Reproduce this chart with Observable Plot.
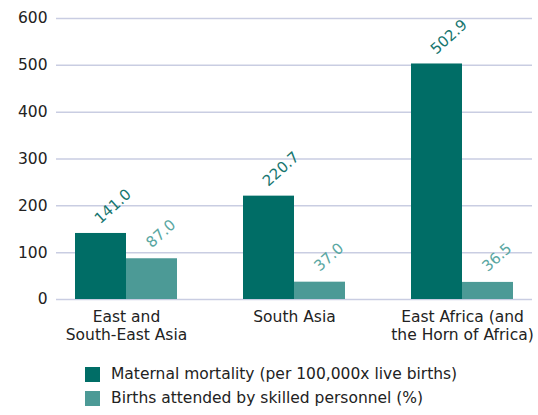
<!DOCTYPE html>
<html>
<head>
<meta charset="utf-8">
<script src="https://cdn.jsdelivr.net/npm/d3@7"></script>
<script src="https://cdn.jsdelivr.net/npm/@observablehq/plot@0.6"></script>
<style>
  html, body { margin: 0; padding: 0; background: #fff; }
  body { width: 538px; height: 415px; overflow: hidden; font-family: "DejaVu Sans", sans-serif; }
  .legend { margin-left: 85px; margin-top: 17px; font-size: 15.5px; color: #222; }
  .legend div { display: flex; align-items: center; height: 24px; }
  .legend span.sw { display: inline-block; width: 15px; height: 15px; margin-right: 11px; }
</style>
</head>
<body>
<div id="chart"></div>
<script>
const regions = ["East and\nSouth-East Asia", "South Asia", "East Africa (and\nthe Horn of Africa)"];
const maternalMortality = [141.0, 220.7, 502.9];
const skilledBirths = [87.0, 37.0, 36.5];
const seriesNames = ["Maternal mortality (per 100,000x live births)", "Births attended by skilled personnel (%)"];
const yTicks = [0, 100, 200, 300, 400, 500, 600];
const colors = ["#006d66", "#4c9a96"];
const labelColors = ["#17766f", "#5aa7a2"];

const rowsA = regions.map((r, i) => ({region: r, value: maternalMortality[i]}));
const rowsB = regions.map((r, i) => ({region: r, value: skilledBirths[i]}));

const half = 51;
const chart = Plot.plot({
  width: 538,
  height: 345,
  marginLeft: 56,
  marginRight: 6,
  marginTop: 18,
  marginBottom: 46,
  style: {fontFamily: "DejaVu Sans, sans-serif", fontSize: "15.5px", color: "#222", background: "#fff"},
  x: {domain: regions, paddingInner: 0.395, paddingOuter: 0.11, label: null},
  y: {domain: [0, 600], ticks: yTicks, label: null, tickSize: 0, tickPadding: 9},
  marks: [
    Plot.ruleY(yTicks, {stroke: "#c9cde2", strokeWidth: 1.5}),
    Plot.barY(rowsA, {x: "region", y: "value", fill: colors[0], insetRight: half, insetLeft: 0}),
    Plot.barY(rowsB, {x: "region", y: "value", fill: colors[1], insetLeft: half, insetRight: 0}),
    Plot.axisX({tickSize: 0, tickPadding: 11, tickFormat: d => d.split("\n")[0], label: null}),
    Plot.axisX({tickSize: 0, tickPadding: 29, tickFormat: d => d.split("\n")[1] ?? "", label: null}),
    Plot.text(rowsA, {x: "region", y: "value", text: d => d.value.toFixed(1), rotate: -42, dx: -25.5 + 12, dy: -27, fill: labelColors[0], fontSize: 15}),
    Plot.text(rowsB, {x: "region", y: "value", text: d => d.value.toFixed(1), rotate: -42, dx: 25.5 + 9, dy: -25, fill: labelColors[1], fontSize: 15})
  ]
});
document.getElementById("chart").appendChild(chart);

const legend = document.createElement("div");
legend.className = "legend";
seriesNames.forEach((name, i) => {
  const row = document.createElement("div");
  const sw = document.createElement("span");
  sw.className = "sw";
  sw.style.background = colors[i];
  row.appendChild(sw);
  row.appendChild(document.createTextNode(name));
  legend.appendChild(row);
});
document.getElementById("chart").appendChild(legend);
</script>
</body>
</html>
